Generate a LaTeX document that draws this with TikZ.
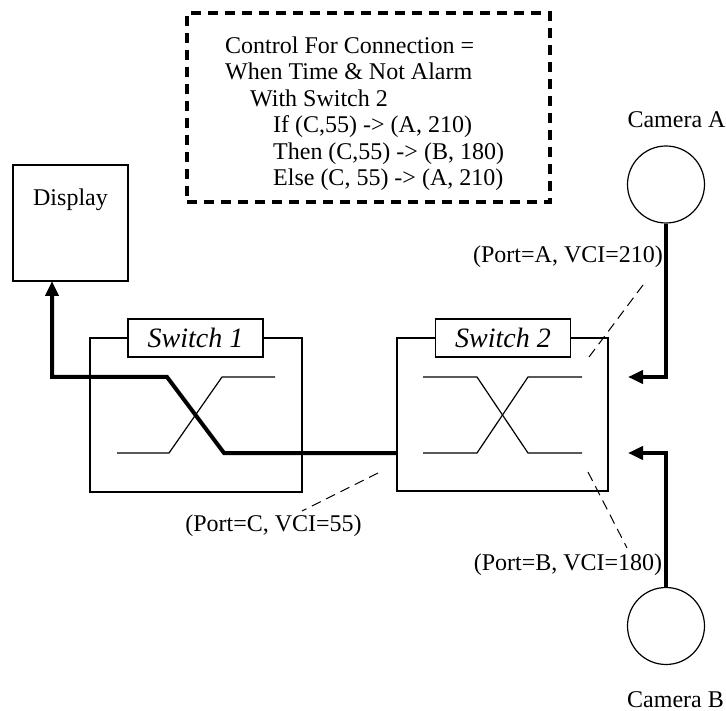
\documentclass[tikz,border=0pt]{standalone}
\usepackage{fontspec}
\setmainfont{Liberation Serif}
\usetikzlibrary{arrows.meta}
\begin{document}
\begin{tikzpicture}[x=1pt,y=-1pt,
  every node/.style={font=\fontsize{24}{26.5}\selectfont, inner sep=0pt},
  thinbox/.style={draw, line width=1.2pt, fill=white},
  thinline/.style={line width=1.2pt},
  thickline/.style={line width=4pt, line join=miter},
  thickarrow/.style={line width=4pt, line join=miter, -{Triangle[length=15pt,width=13pt]}},
  leader/.style={line width=1pt, dash pattern=on 10pt off 6pt},
  swlabel/.style={thinbox, minimum width=135pt, minimum height=38pt, font=\fontsize{28}{30}\selectfont\itshape},
  camera/.style={draw, line width=1.2pt, circle, minimum size=77pt}
]
\useasboundingbox (0,0) rectangle (726,711);

% control rule box
\node[draw, line width=3.5pt, dash pattern=on 10pt off 7pt,
      minimum width=363pt, minimum height=189pt] (ctrlbox) at (368.5,107.5) {};
\node[anchor=north west, align=left] (ctrl) at (225,36.5)
  {Control For Connection =\\
   When Time \& Not Alarm\\
   \hspace*{25pt}With Switch 2\\
   \hspace*{48pt}If (C,55) -> (A, 210)\\
   \hspace*{48pt}Then (C,55) -> (B, 180)\\
   \hspace*{48pt}Else (C, 55) -> (A, 210)};

% display
\node[draw, line width=1.2pt, minimum width=115pt, minimum height=116pt] (disp) at (70.5,223) {};
\node (disptext) at (70.5,200) {Display};

% switches
\node[thinbox, minimum width=212pt, minimum height=154pt] (sw1) at (196,415) {};
\node[swlabel] (sw1lab) at (195.5,338) {Switch 1};
\node[thinbox, minimum width=211pt, minimum height=153pt] (sw2) at (502.5,414.5) {};
\node[swlabel] (sw2lab) at (503,338) {Switch 2};

% switch 1 crossbar
\draw[thinline] (117,453) -- (169,453) -- (222,377) -- (275,377);

% switch 2 crossbar
\draw[thinline] (423,377) -- (477,377) -- (528,453) -- (582,453);
\draw[thinline] (423,453) -- (477,453) -- (528,377) -- (582,377);

% cameras
\node[camera] (camA) at (666,184.5) {};
\node[anchor=base] (camAtext) at (676.5,128) {Camera A};
\node[camera] (camB) at (666,626) {};
\node[anchor=base] (camBtext) at (675.5,707) {Camera B};

% connection points
\coordinate (sw2in) at (397,453);
\coordinate (k1) at (224,453);
\coordinate (k2) at (167,377);
\coordinate (k3) at (52,377);
\coordinate (dispin) at (52,281);
\coordinate (inA) at (628,377);
\coordinate (inB) at (628,453);

% active connection
\draw[thickarrow] (sw2in) -- (k1) -- (k2) -- (k3) -- (dispin);
\draw[thickarrow] (camA.south) |- (inA);
\draw[thickarrow] (camB.north) |- (inB);

% port labels
\node (portA) at (568,257) {(Port=A, VCI=210)};
\node (portB) at (568,565) {(Port=B, VCI=180)};
\node (portC) at (273.5,526) {(Port=C, VCI=55)};
\coordinate (pA1) at (643,285);
\coordinate (pA2) at (589,357);
\coordinate (pB1) at (588,472);
\coordinate (pB2) at (627,548);
\coordinate (pC1) at (378,473);
\coordinate (pC2) at (302,511);
\draw[leader] (pA1) -- (pA2);
\draw[leader] (pB1) -- (pB2);
\draw[leader] (pC1) -- (pC2);
\end{tikzpicture}
\end{document}
